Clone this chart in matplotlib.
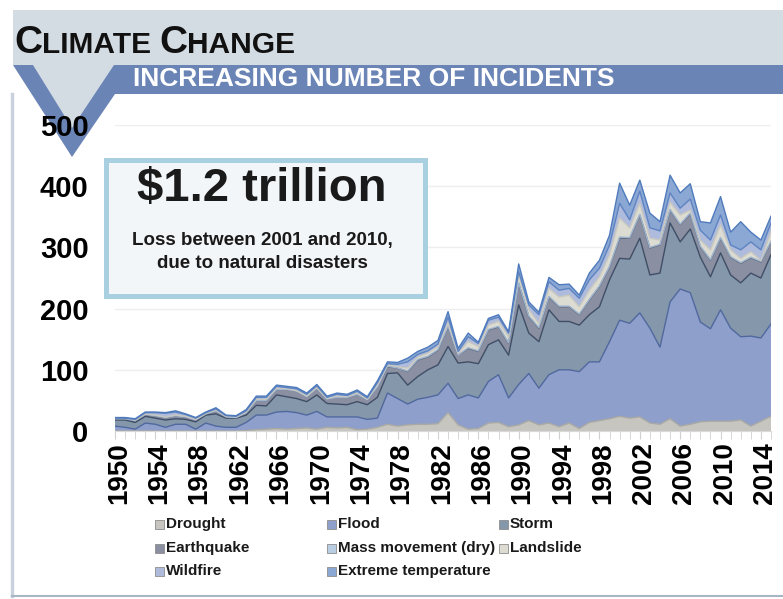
import numpy as np
import matplotlib.pyplot as plt
from matplotlib.patches import Polygon, Rectangle
from matplotlib.transforms import ScaledTranslation

plt.rcParams['font.family'] = ['Liberation Sans', 'DejaVu Sans']

years = list(range(1950, 2016))

drought = [0, 0, 0, 0, 0, 0, 0, 0, 0, 0,
           0, 0, 0, 1, 2, 3, 4, 3, 4, 5,
           3, 6, 5, 6, 2, 3, 6, 11, 8, 10,
           11, 11, 12, 30, 10, 3, 4, 13, 14, 7,
           10, 17, 10, 13, 7, 13, 4, 14, 17, 20,
           24, 21, 23, 13, 11, 20, 8, 11, 15, 16,
           16, 16, 18, 8, 16, 24]
flood = [8, 6, 3, 13, 11, 6, 11, 11, 3, 13,
         8, 6, 6, 13, 24, 23, 27, 29, 26, 21,
         29, 17, 18, 17, 21, 16, 15, 51, 45, 34,
         41, 44, 47, 48, 43, 56, 50, 68, 78, 47,
         66, 77, 60, 79, 93, 87, 93, 99, 96, 126,
         157, 155, 170, 155, 126, 191, 224, 215, 163, 151,
         182, 152, 136, 147, 136, 151]
storm = [10, 12, 11, 11, 10, 12, 9, 8, 12, 13,
         20, 15, 15, 12, 16, 15, 28, 24, 23, 22,
         27, 22, 21, 20, 25, 24, 34, 32, 42, 31,
         37, 45, 49, 60, 58, 54, 56, 60, 57, 70,
         130, 66, 76, 106, 79, 79, 76, 77, 90, 101,
         101, 105, 122, 87, 121, 129, 77, 104, 106, 85,
         93, 87, 88, 103, 98, 113]
earthquake = [2, 2, 3, 3, 4, 4, 5, 4, 3, 2,
              5, 2, 1, 4, 8, 9, 9, 12, 12, 8,
              11, 7, 11, 12, 12, 8, 17, 11, 8, 22,
              27, 21, 24, 32, 13, 22, 20, 24, 21, 19,
              35, 27, 22, 21, 24, 24, 17, 24, 33, 21,
              33, 34, 38, 44, 46, 21, 28, 25, 17, 27,
              24, 29, 32, 25, 26, 21]
mass_movement = [0, 0, 0, 0, 0, 0, 0, 0, 0, 0,
                 0, 0, 0, 0, 0, 0, 0, 0, 0, 0,
                 0, 0, 0, 0, 0, 0, 0, 1, 0, 1,
                 1, 1, 1, 1, 0, 1, 1, 1, 1, 1,
                 1, 1, 1, 1, 1, 1, 1, 1, 1, 1,
                 2, 1, 1, 1, 1, 1, 1, 1, 1, 1,
                 1, 1, 1, 1, 1, 1]
landslide = [1, 1, 1, 1, 1, 1, 1, 1, 1, 1,
             1, 1, 1, 1, 2, 2, 2, 1, 1, 1,
             1, 1, 2, 1, 2, 1, 3, 2, 2, 5,
             4, 5, 5, 5, 3, 10, 7, 7, 8, 10,
             13, 10, 7, 13, 15, 18, 12, 15, 15, 19,
             31, 16, 18, 15, 7, 12, 15, 5, 10, 16,
             21, 11, 7, 9, 2, 15]
wildfire = [0, 0, 1, 2, 4, 6, 5, 3, 2, 1,
            2, 1, 1, 2, 3, 3, 3, 2, 3, 3,
            3, 2, 3, 2, 3, 2, 4, 2, 4, 10,
            4, 4, 4, 10, 3, 8, 5, 8, 7, 6,
            5, 8, 14, 11, 11, 11, 14, 17, 14, 16,
            24, 13, 20, 17, 15, 15, 11, 18, 16, 16,
            16, 8, 14, 16, 17, 15]
extreme_temp = [1, 1, 1, 1, 1, 1, 2, 1, 1, 1,
                2, 1, 1, 2, 2, 2, 2, 2, 2, 2,
                2, 2, 2, 2, 2, 2, 3, 3, 3, 6,
                5, 6, 6, 9, 5, 6, 2, 3, 4, 2,
                13, 5, 4, 7, 9, 7, 5, 11, 13, 16,
                33, 24, 18, 24, 15, 29, 25, 25, 14, 28,
                30, 21, 46, 16, 16, 11]

labels = ['Drought', 'Flood', 'Storm', 'Earthquake', 'Mass movement (dry)',
          'Landslide', 'Wildfire', 'Extreme temperature']
series = [drought, flood, storm, earthquake, mass_movement,
          landslide, wildfire, extreme_temp]
fills = ['#c6c5c0', '#8e9fcc', '#8597ab', '#8b8fa2',
         '#b9cde3', '#dcdcd3', '#aebbdc', '#8ba7d3']
edges = ['#a9a9a4', '#50689e', '#3f4e66', '#5f6477',
         '#9fb6d0', '#c8c8c0', '#5d83c2', '#4f7bbd']

W, H = 783, 599
fig = plt.figure(figsize=(W / 100, H / 100), dpi=100)

# header / frame decoration in pixel coordinates
bg = fig.add_axes([0, 0, 1, 1], zorder=-1)
bg.set_xlim(0, W)
bg.set_ylim(H, 0)
bg.axis('off')
bg.add_patch(Rectangle((13, 10), W - 13, 55, color='#d4dce3', lw=0))
bg.add_patch(Polygon([(13, 65), (W, 65), (W, 94), (115, 94), (72, 157)],
                     closed=True, color='#6a84b6', lw=0))
bg.add_patch(Polygon([(33, 65), (114, 65), (72, 128)], closed=True,
                     color='#d4dce3', lw=0))
bg.plot([12, 12], [94, 596], color='#c9d1dc', lw=2.5)
bg.plot([12, W], [596, 596], color='#a9b6c6', lw=1.5)

# title in small caps
renderer = fig.canvas.get_renderer()
x = 14
for part, size in [('C', 28), ('LIMATE ', 21.5), ('C', 28), ('HANGE', 21.5)]:
    t = bg.text(x, 53, part, fontsize=size, weight='bold', color='#111111',
                va='baseline', ha='left')
    x += t.get_window_extent(renderer).width
bg.text(133, 79, 'INCREASING NUMBER OF INCIDENTS', fontsize=19, weight='bold',
        color='white', va='center', ha='left')

# main chart
ax = fig.add_axes([115 / W, 1 - 431 / H, 656 / W, 306 / H])
ax.patch.set_alpha(0)
ax.stackplot(years, *series, colors=fills, lw=0)
tops = np.cumsum(np.array(series), axis=0)
for top, ec in zip(tops, edges):
    ax.plot(years, top, color=ec, lw=1)

ax.set_xlim(1950, 2015)
ax.set_ylim(0, 500)
ax.set_yticks(range(0, 501, 100))
ax.yaxis.grid(True, color='#eeeeee', lw=1)
ax.set_axisbelow(True)
ax.set_xticks(range(1950, 2015, 4))
ax.set_xticks(years, minor=True)
ax.tick_params(axis='y', length=0, pad=19, labelsize=21)
ax.tick_params(axis='x', which='both', length=6, color='#d0d0d0',
               pad=2, labelsize=20, labelrotation=90)
shift = ScaledTranslation(4 / 100, 0, fig.dpi_scale_trans)
for lab in ax.get_xticklabels():
    lab.set_fontweight('bold')
    lab.set_transform(lab.get_transform() + shift)
for lab in ax.get_yticklabels():
    lab.set_fontweight('bold')
for s in ['top', 'right', 'left']:
    ax.spines[s].set_visible(False)
ax.spines['bottom'].set_color('#d9d9d9')

# overlay: callout box and legend
top_ax = fig.add_axes([0, 0, 1, 1], zorder=5)
top_ax.set_xlim(0, W)
top_ax.set_ylim(H, 0)
top_ax.axis('off')
top_ax.patch.set_alpha(0)
top_ax.add_patch(Rectangle((105.5, 159.5), 319, 136, fc='#f3f6f9',
                           ec='#a8d0e1', lw=3.6))
top_ax.text(262, 201, '\\$1.2 trillion', fontsize=34, weight='bold',
            color='#1a1a1a', ha='center', va='baseline')
top_ax.text(262, 241, 'Loss between 2001 and 2010,', fontsize=13.5,
            weight='bold', color='#1a1a1a', ha='center', va='center')
top_ax.text(262, 263, 'due to natural disasters', fontsize=13.5,
            weight='bold', color='#1a1a1a', ha='center', va='center')

col_x = [155, 327, 499]
row_y = [524, 548, 571]
for i, (lab, fc) in enumerate(zip(labels, fills)):
    cx = col_x[i % 3]
    cy = row_y[i // 3]
    top_ax.add_patch(Rectangle((cx, cy - 4.5), 9, 9, fc=fc, ec='#8c8c8c', lw=0.6))
    top_ax.text(cx + 11, cy, lab, fontsize=11, weight='bold',
                color='#1a1a1a', ha='left', va='center')

fig.savefig('out.png', dpi=100)
